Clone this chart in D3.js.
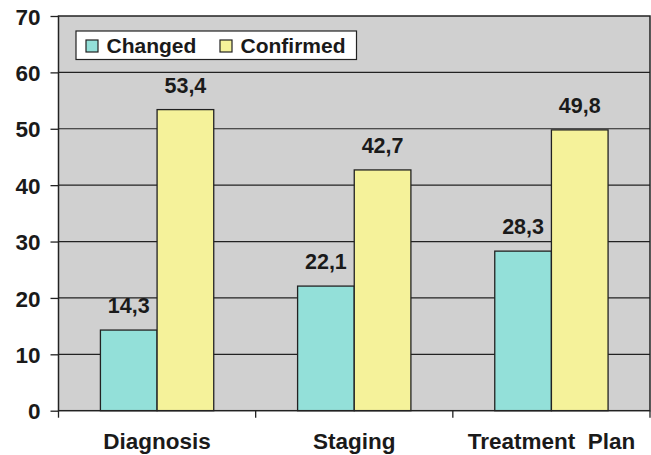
<!DOCTYPE html>
<html>
<head>
<meta charset="utf-8">
<script src="https://cdn.jsdelivr.net/npm/d3@7"></script>
<style>
  html, body { margin: 0; padding: 0; background: #fff; }
  svg { display: block; font-family: "Liberation Sans", Arial, sans-serif; font-weight: bold; }
</style>
</head>
<body>
<svg id="chart" width="651" height="455"></svg>
<script>
// Chart data
const categories = ["Diagnosis", "Staging", "Treatment  Plan"];
const seriesNames = ["Changed", "Confirmed"];
const changed = [14.3, 22.1, 28.3];
const confirmed = [53.4, 42.7, 49.8];
const yTicks = [0, 10, 20, 30, 40, 50, 60, 70];

const colors = { Changed: "#93e0d9", Confirmed: "#f5f29a" };
const fmt = v => d3.format(".1f")(v).replace(".", ",");
const FONT = "Liberation Sans, Arial, sans-serif";

const svg = d3.select("#chart");
const margin = { left: 58.5, right: 1, top: 16, bottom: 44.3 };
const W = 651, H = 455;
const innerW = W - margin.left - margin.right;
const innerH = H - margin.top - margin.bottom;

const g = svg.append("g").attr("transform", `translate(${margin.left},${margin.top})`);

const x = d3.scaleBand().domain(categories).range([0, innerW]);
const xs = d3.scaleBand().domain(seriesNames).range([0, x.bandwidth()]).paddingOuter(0.74).paddingInner(0);
const y = d3.scaleLinear().domain([0, 70]).range([innerH, 0]);

// plot background
g.append("rect").attr("width", innerW).attr("height", innerH).attr("fill", "#d0d0d0");

// horizontal gridlines
g.append("g").selectAll("line").data(yTicks.slice(1, -1)).join("line")
  .attr("x1", 0).attr("x2", innerW)
  .attr("y1", d => y(d)).attr("y2", d => y(d))
  .attr("stroke", "#222").attr("stroke-width", 1.2);

// bars
const rows = categories.map((c, i) => ({ cat: c, values: [
  { key: "Changed", v: changed[i] }, { key: "Confirmed", v: confirmed[i] }] }));

const grp = g.append("g").selectAll("g").data(rows).join("g")
  .attr("transform", d => `translate(${x(d.cat)},0)`);

grp.selectAll("rect").data(d => d.values).join("rect")
  .attr("x", d => xs(d.key)).attr("width", xs.bandwidth())
  .attr("y", d => y(d.v)).attr("height", d => innerH - y(d.v))
  .attr("fill", d => colors[d.key]).attr("stroke", "#222").attr("stroke-width", 1.3);

grp.selectAll("text").data(d => d.values).join("text")
  .attr("x", d => xs(d.key) + xs.bandwidth() / 2)
  .attr("y", d => y(d.v) - 17)
  .attr("text-anchor", "middle").attr("font-size", 21.5).attr("fill", "#1a1a1a")
  .text(d => fmt(d.v));

// frame
g.append("rect").attr("width", innerW).attr("height", innerH)
  .attr("fill", "none").attr("stroke", "#222").attr("stroke-width", 1.5);

// y axis
const yAxis = g.append("g").call(d3.axisLeft(y).tickValues(yTicks).tickSize(8).tickPadding(10));
yAxis.select(".domain").remove();
yAxis.selectAll("line").attr("stroke", "#222").attr("stroke-width", 1.3);
yAxis.selectAll("text").attr("font-size", 22.5).attr("font-weight", "bold").attr("fill", "#1a1a1a")
  .attr("font-family", FONT).attr("dy", "0.36em");

// x axis
const xAxis = g.append("g").attr("transform", `translate(0,${innerH})`)
  .call(d3.axisBottom(x).tickSize(0).tickPadding(22));
xAxis.select(".domain").remove();
xAxis.selectAll("text").attr("font-size", 22.5).attr("font-weight", "bold").attr("fill", "#1a1a1a")
  .attr("font-family", FONT).style("white-space", "pre");
// category separator ticks
const sep = d3.range(categories.length + 1).map(i => i * x.step());
xAxis.selectAll("line.sep").data(sep).join("line").attr("class", "sep")
  .attr("x1", d => d).attr("x2", d => d).attr("y1", 0).attr("y2", 7)
  .attr("stroke", "#222").attr("stroke-width", 1.3);

// legend
const lg = svg.append("g").attr("transform", "translate(76,31)");
lg.append("rect").attr("width", 280.5).attr("height", 28.5).attr("fill", "#fff")
  .attr("stroke", "#222").attr("stroke-width", 1.2);
const legendX = [10, 144];
seriesNames.forEach((s, i) => {
  lg.append("rect").attr("x", legendX[i]).attr("y", 9).attr("width", 12).attr("height", 12)
    .attr("fill", colors[s]).attr("stroke", "#222").attr("stroke-width", 1.2);
  lg.append("text").attr("x", legendX[i] + 20.5).attr("y", 22)
    .attr("font-size", 21).attr("fill", "#1a1a1a").text(s);
});
</script>
</body>
</html>
